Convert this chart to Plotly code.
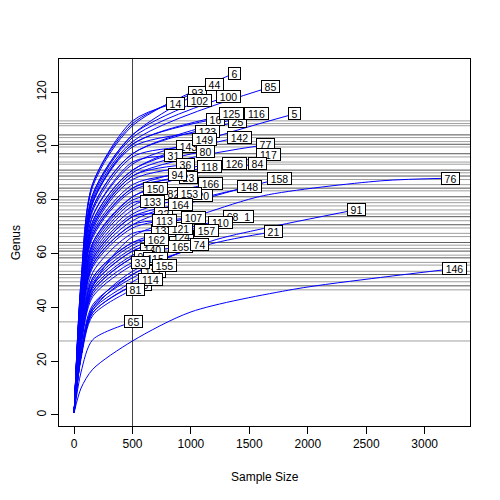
import plotly.graph_objects as go

# rarefaction curves: end points read from the label positions,
# rarefied richness at 500
sample_labels = [
    "93", "16", "25", "123", "143", "80", "31", "120", "82", "22",
    "124", "140", "92", "127", "8", "23", "137", "68_1", "121", "6",
    "44", "102", "14", "100", "85", "125", "116", "5", "149", "142",
    "77", "117", "36", "118", "126", "84", "94", "166", "148", "158",
    "150", "153", "133", "164", "107", "113", "110", "157", "21", "162",
    "165", "74", "115", "33", "155", "114", "81", "65", "76", "91", "146",
]
sample_size = [
    1054, 1208, 1397, 1140, 977, 1123, 848, 1080, 848, 763,
    917, 668, 591, 677, 608, 977, 763, 1405, 908, 1371,
    1200, 1071, 865, 1320, 1680, 1345, 1560, 1885, 1114, 1414,
    1637, 1662, 951, 1157, 1371, 1568, 883, 1165, 1500, 1757,
    694, 985, 668, 908, 1020, 771, 1251, 1131, 1705, 703,
    908, 1071, 694, 566, 771, 651, 523, 506, 3222, 2416, 3256,
]
genus_total = [
    120.0, 110.0, 108.9, 105.2, 99.6, 98.1, 96.3, 81.5, 82.2, 74.8,
    66.3, 61.5, 58.9, 53.3, 48.5, 88.1, 68.5, 73.7, 69.3, 127.0,
    123.0, 116.7, 115.9, 118.5, 121.9, 111.9, 111.9, 111.9, 102.2, 103.3,
    100.4, 96.7, 93.0, 92.2, 93.3, 93.3, 89.3, 85.9, 84.8, 87.8,
    84.1, 82.2, 79.3, 78.1, 73.3, 72.2, 71.5, 68.5, 68.1, 65.2,
    62.6, 63.3, 58.1, 56.5, 55.6, 50.4, 46.7, 34.7, 88.0, 76.3, 54.4,
]
genus_at_500 = [
    108.3, 100.6, 97.1, 99.6, 95.9, 90.0, 94.0, 74.7, 79.9, 73.7,
    60.9, 59.4, 58.4, 49.5, 48.0, 84.3, 67.5, 63.1, 64.1, 107.5,
    104.1, 104.1, 109.3, 103.1, 101.6, 100.6, 97.1, 91.0, 93.2, 91.0,
    88.8, 81.1, 88.8, 84.3, 87.5, 83.3, 85.6, 77.7, 72.2, 70.7,
    81.1, 76.2, 78.9, 73.7, 69.5, 70.7, 61.9, 60.9, 53.4, 64.1,
    58.4, 52.2, 56.7, 55.7, 51.0, 48.0, 46.5, 34.6, 66.3, 52.2, 27.5,
]
genus_at_60 = [
    50, 46, 45, 46, 44, 41, 43, 34, 37, 34,
    28, 27, 27, 23, 22, 39, 31, 29, 29, 49,
    48, 48, 50, 47, 47, 46, 45, 42, 43, 42,
    41, 37, 41, 39, 40, 38, 39, 36, 33, 33,
    37, 35, 36, 34, 32, 33, 28, 28, 22, 29,
    27, 24, 26, 26, 23, 22, 21, 16, 28, 22, 10,
]
genus_at_160 = [
    86, 79, 77, 79, 76, 71, 74, 59, 63, 58,
    48, 47, 46, 39, 38, 67, 53, 50, 51, 85,
    82, 82, 86, 81, 80, 79, 77, 72, 74, 72,
    70, 64, 70, 67, 69, 66, 68, 61, 57, 56,
    64, 60, 62, 58, 55, 56, 49, 48, 40, 51,
    46, 41, 45, 44, 40, 38, 37, 28, 48, 39, 17,
]

# extra points along the long curves
tail_labels = ["21", "76", "91", "146"]
tail_x = [[1165], [1105, 1620, 2622], [1165, 1620], [1000, 1877, 2622]]
tail_y = [[63.5], [74.8, 81.5, 87.0], [64.5, 69.3], [38.3, 46.7, 51.1]]

rare_depth = 500
x_ticks = [0, 500, 1000, 1500, 2000, 2500, 3000]
y_ticks = [0, 20, 40, 60, 80, 100, 120]

fig = go.Figure()

# horizontal lines at rarefied richness, vertical line at the depth
for g in genus_at_500:
    fig.add_hline(y=g, line=dict(color="rgba(0,0,0,0.38)", width=1), layer="below")
fig.add_vline(x=rare_depth, line=dict(color="#444444", width=1), layer="below")

for i, lab in enumerate(sample_labels):
    xs = [1, 60, 160, rare_depth]
    ys = [1, genus_at_60[i], genus_at_160[i], genus_at_500[i]]
    if lab in tail_labels:
        k = tail_labels.index(lab)
        xs += tail_x[k]
        ys += tail_y[k]
    xs.append(sample_size[i])
    ys.append(genus_total[i])
    fig.add_trace(
        go.Scatter(
            x=xs,
            y=ys,
            mode="lines",
            line=dict(color="blue", width=1, shape="spline", smoothing=0.8),
            hoverinfo="skip",
            showlegend=False,
        )
    )

annotations = []
for i, lab in enumerate(sample_labels):
    annotations.append(
        dict(
            x=sample_size[i],
            y=genus_total[i],
            text=lab,
            showarrow=False,
            xanchor="center",
            yanchor="middle",
            font=dict(family="Liberation Sans", size=10.5, color="black"),
            bgcolor="white",
            bordercolor="black",
            borderwidth=1,
            borderpad=0,
            width=6 * len(lab) + 5,
            height=11,
        )
    )

annotations.append(
    dict(x=0.5, y=-0.139, xref="paper", yref="paper", text="Sample Size",
         showarrow=False, xanchor="center", yanchor="middle",
         font=dict(family="Liberation Sans", size=12, color="black"))
)
annotations.append(
    dict(x=-0.105, y=0.5, xref="paper", yref="paper", text="Genus",
         showarrow=False, xanchor="center", yanchor="middle", textangle=-90,
         font=dict(family="Liberation Sans", size=12, color="black"))
)

# page body adds 8px, so the figure is 492 wide with margins shifted
fig.update_layout(
    width=492,
    height=492,
    margin=dict(l=51, r=30, t=51, b=74),
    paper_bgcolor="white",
    plot_bgcolor="white",
    font=dict(family="Liberation Sans", size=12, color="black"),
    annotations=annotations,
    xaxis=dict(
        range=[-129, 3388],
        tickvals=x_ticks,
        ticks="outside",
        ticklen=7,
        tickcolor="black",
        showline=True,
        mirror=True,
        linecolor="black",
        linewidth=1,
        showgrid=False,
        zeroline=False,
    ),
    yaxis=dict(
        range=[-4.1, 132.3],
        tickvals=y_ticks,
        tickangle=-90,
        ticks="outside",
        ticklen=7,
        tickcolor="black",
        showline=True,
        mirror=True,
        linecolor="black",
        linewidth=1,
        showgrid=False,
        zeroline=False,
    ),
)

fig.write_html("out.html")
